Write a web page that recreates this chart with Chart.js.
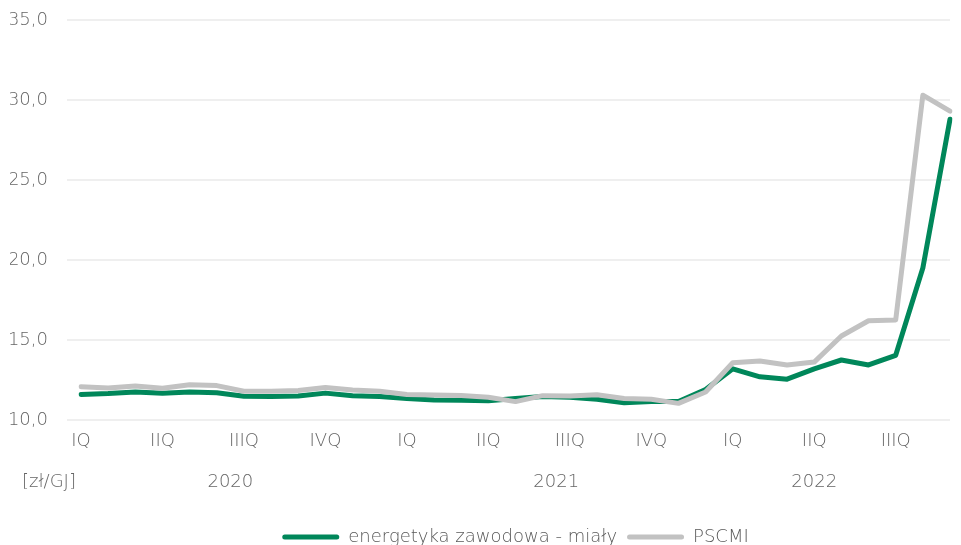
<!DOCTYPE html>
<html>
<head>
<meta charset="utf-8">
<script src="https://cdn.jsdelivr.net/npm/chart.js@4"></script>
<style>
  html, body { margin: 0; padding: 0; background: #ffffff; overflow: hidden; }
  #wrap { position: relative; width: 961px; height: 545px; }
</style>
</head>
<body>
<div id="wrap"><canvas id="chart"></canvas></div>
<script>
// Monthly prices, January 2020 – September 2022 [zł/GJ]
const months = [
  '2020-01','2020-02','2020-03','2020-04','2020-05','2020-06','2020-07','2020-08','2020-09','2020-10','2020-11','2020-12',
  '2021-01','2021-02','2021-03','2021-04','2021-05','2021-06','2021-07','2021-08','2021-09','2021-10','2021-11','2021-12',
  '2022-01','2022-02','2022-03','2022-04','2022-05','2022-06','2022-07','2022-08','2022-09'
];
const energetyka = [
  11.60, 11.65, 11.75, 11.67, 11.75, 11.70, 11.48, 11.47, 11.50, 11.68, 11.52, 11.47,
  11.35, 11.25, 11.23, 11.20, 11.35, 11.47, 11.42, 11.30, 11.08, 11.15, 11.15, 11.90,
  13.20, 12.70, 12.55, 13.20, 13.75, 13.44, 14.04, 19.50, 28.80
];
const pscmi = [
  12.08, 12.00, 12.12, 11.98, 12.20, 12.15, 11.80, 11.80, 11.85, 12.03, 11.87, 11.80,
  11.60, 11.56, 11.53, 11.42, 11.15, 11.52, 11.50, 11.58, 11.35, 11.30, 11.04, 11.75,
  13.58, 13.69, 13.44, 13.62, 15.25, 16.20, 16.25, 30.30, 29.30
];
const quarterLabels = ['IQ', 'IIQ', 'IIIQ', 'IVQ'];
const yearLabels = ['2020', '2021', '2022'];
const yearPositions = [5.5, 17.5, 27];   // month index under which each year is written
const unitLabel = '[zł/GJ]';
const yTicks = [10, 15, 20, 25, 30, 35];

const GREEN = '#00875a';
const GREY = '#c2c2c2';
const TEXT = '#666666';
const FONT = "'DejaVu Sans', 'Open Sans', sans-serif";
const WEIGHT = '300';
const FS = 18;
const LH = FS * 1.2;

// Unit caption written on the same line as the year labels
const unitPlugin = {
  id: 'unitCaption',
  afterDraw(chart) {
    const s = chart.scales.x2;
    const ctx = chart.ctx;
    ctx.save();
    ctx.font = `${WEIGHT} ${FS}px ${FONT}`;
    ctx.fillStyle = TEXT;
    ctx.textAlign = 'left';
    ctx.textBaseline = 'middle';
    ctx.fillText(unitLabel, 22, s.top + s.options.ticks.padding + LH / 2);
    ctx.restore();
  }
};

const tickFont = { family: FONT, size: FS, weight: WEIGHT };

new Chart(document.getElementById('chart'), {
  type: 'line',
  data: {
    labels: months,
    datasets: [
      {
        label: 'energetyka zawodowa - miały',
        data: energetyka,
        borderColor: GREEN,
        backgroundColor: GREEN,
        borderWidth: 5,
        pointRadius: 0,
        tension: 0,
        fill: false,
        borderJoinStyle: 'round',
        borderCapStyle: 'round',
        order: 1
      },
      {
        label: 'PSCMI',
        data: pscmi,
        borderColor: GREY,
        backgroundColor: GREY,
        borderWidth: 5,
        pointRadius: 0,
        tension: 0,
        fill: false,
        borderJoinStyle: 'round',
        borderCapStyle: 'round',
        order: 0
      }
    ]
  },
  options: {
    responsive: true,
    maintainAspectRatio: false,
    animation: false,
    layout: { padding: { left: 10, right: 3, top: 20, bottom: -11 } },
    font: { family: FONT },
    plugins: {
      tooltip: { enabled: false },
      legend: {
        position: 'bottom',
        fullSize: false,
        labels: {
          color: '#595959',
          font: tickFont,
          boxWidth: 57,
          boxHeight: 5,
          useBorderRadius: true,
          borderRadius: 2.5,
          padding: 10,
          sort: (a, b) => a.datasetIndex - b.datasetIndex,
          generateLabels(chart) {
            return Chart.defaults.plugins.legend.labels.generateLabels(chart)
              .map(item => Object.assign(item, { lineWidth: 0 }));
          }
        }
      }
    },
    scales: {
      x: {
        type: 'category',
        position: 'bottom',
        offset: false,
        weight: 0,
        grid: { display: false, drawTicks: false },
        border: { display: false },
        afterFit: (scale) => { scale.height = 9 + LH; },
        ticks: {
          autoSkip: false,
          maxRotation: 0,
          minRotation: 0,
          padding: 11,
          color: TEXT,
          font: tickFont,
          callback: (value, index) => index % 3 === 0 ? quarterLabels[(index / 3) % 4] : ''
        }
      },
      x2: {
        type: 'linear',
        position: 'bottom',
        weight: 1,
        min: 0,
        max: months.length - 1,
        grid: { display: false, drawTicks: false },
        border: { display: false },
        afterBuildTicks: (scale) => { scale.ticks = yearPositions.map(v => ({ value: v })); },
        afterFit: (scale) => { scale.height = 67.4; },
        ticks: {
          autoSkip: false,
          maxRotation: 0,
          padding: 20.6,
          color: TEXT,
          font: tickFont,
          callback: (value) => {
            const i = yearPositions.indexOf(value);
            return i >= 0 ? yearLabels[i] : '';
          }
        }
      },
      y: {
        min: 10,
        max: 35,
        afterBuildTicks: (scale) => { scale.ticks = yTicks.map(v => ({ value: v })); },
        afterFit: (scale) => {
          scale.width = 71;
          scale.paddingTop = 0;
          scale.paddingBottom = 0;
        },
        grid: { color: '#efefef', lineWidth: 2, drawTicks: true, tickLength: 14 },
        border: { display: false },
        ticks: {
          padding: 19,
          color: TEXT,
          font: tickFont,
          callback: (v) => v.toFixed(1).replace('.', ',')
        }
      }
    }
  },
  plugins: [unitPlugin]
});
</script>
</body>
</html>
